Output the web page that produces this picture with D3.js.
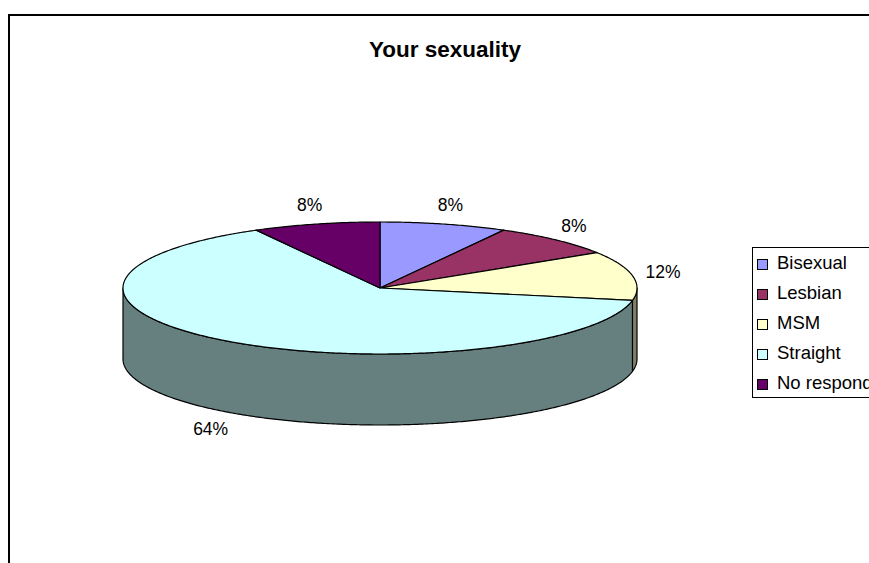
<!DOCTYPE html>
<html><head><meta charset="utf-8">
<script src="https://cdn.jsdelivr.net/npm/d3@7/dist/d3.min.js"></script>
<style>body{margin:0;background:#fff;} svg{display:block;}</style>
</head><body>
<svg id="chart" width="869" height="563"></svg>
<script>
const title = "Your sexuality";
const categories = ["Bisexual", "Lesbian", "MSM", "Straight", "No respond"];
const values = [8, 8, 12, 64, 8];
const labels = ["8%", "8%", "12%", "64%", "8%"];
const topColors = ["#9999FF", "#993366", "#FFFFCC", "#CCFFFF", "#660066"];
const sideColors = ["#4C4C80", "#4C1933", "#808066", "#668080", "#330033"];

const W = 869, H = 563;
const cx = 380, cy = 288, rx = 257, ry = 66, depth = 71;
const font = "Arial, 'Liberation Sans', sans-serif";

const svg = d3.select("#chart");
svg.append("rect").attr("x", 0).attr("y", 0).attr("width", W).attr("height", H).attr("fill", "#fff");
// chart area border (extends beyond viewport)
svg.append("rect").attr("x", 9).attr("y", 15).attr("width", 1000).attr("height", 700)
  .attr("fill", "none").attr("stroke", "#000").attr("stroke-width", 2);

svg.append("text").attr("x", 445).attr("y", 57).attr("text-anchor", "middle")
  .attr("font-family", font).attr("font-size", 22.5).attr("font-weight", "bold").text(title);

const xs = d3.scaleLinear().domain([-1, 1]).range([cx - rx, cx + rx]);
const ys = d3.scaleLinear().domain([-1, 1]).range([cy - ry, cy + ry]);
const pt = (a, dz = 0) => [xs(Math.sin(a)), ys(-Math.cos(a)) + dz];

const pie = d3.pie().sort(null).value(d => d);
const arcs = pie(values);
const line = d3.line();

function samples(a0, a1) {
  const n = Math.max(2, Math.ceil((a1 - a0) / 0.01));
  return d3.range(n + 1).map(i => a0 + (a1 - a0) * i / n);
}

const g = svg.append("g");
// side walls (front half only)
arcs.forEach((d, i) => {
  const a0 = Math.max(d.startAngle, Math.PI / 2), a1 = Math.min(d.endAngle, 3 * Math.PI / 2);
  if (a1 <= a0) return;
  const s = samples(a0, a1);
  const pts = s.map(a => pt(a)).concat(s.slice().reverse().map(a => pt(a, depth)));
  g.append("path").attr("d", line(pts) + "Z").attr("fill", sideColors[i])
    .attr("stroke", "#000").attr("stroke-width", 1.2).attr("stroke-linejoin", "round");
});
// top faces
arcs.forEach((d, i) => {
  const pts = [[cx, cy]].concat(samples(d.startAngle, d.endAngle).map(a => pt(a)));
  g.append("path").attr("d", line(pts) + "Z").attr("fill", topColors[i])
    .attr("stroke", "#000").attr("stroke-width", 1.2).attr("stroke-linejoin", "round");
});

// data labels
const fs = 17.5, gap = 13.6;
arcs.forEach((d, i) => {
  const m = (d.startAngle + d.endAngle) / 2;
  const front = Math.cos(m) < 0;
  const p = pt(m, front ? depth : 0);
  const t = svg.append("text").attr("font-family", font).attr("font-size", fs)
    .attr("text-anchor", "middle").text(labels[i]);
  const w = t.node().getComputedTextLength();
  const h = fs * 0.716;
  const lx = p[0] + Math.sin(m) * (w / 2 + gap);
  const ly = p[1] - Math.cos(m) * (h / 2 + gap);
  t.attr("x", lx).attr("y", ly + h / 2);
});

// legend
const lg = svg.append("g");
lg.append("rect").attr("x", 752.5).attr("y", 247.5).attr("width", 300).attr("height", 150)
  .attr("fill", "#fff").attr("stroke", "#000").attr("stroke-width", 1);
categories.forEach((c, i) => {
  const y = 269 + i * 30;
  lg.append("rect").attr("x", 757.5).attr("y", y - 9.5).attr("width", 10).attr("height", 10)
    .attr("fill", topColors[i]).attr("stroke", "#000").attr("stroke-width", 1);
  lg.append("text").attr("x", 777).attr("y", y).attr("font-family", font).attr("font-size", 18.5).text(c);
});
</script>
</body></html>
